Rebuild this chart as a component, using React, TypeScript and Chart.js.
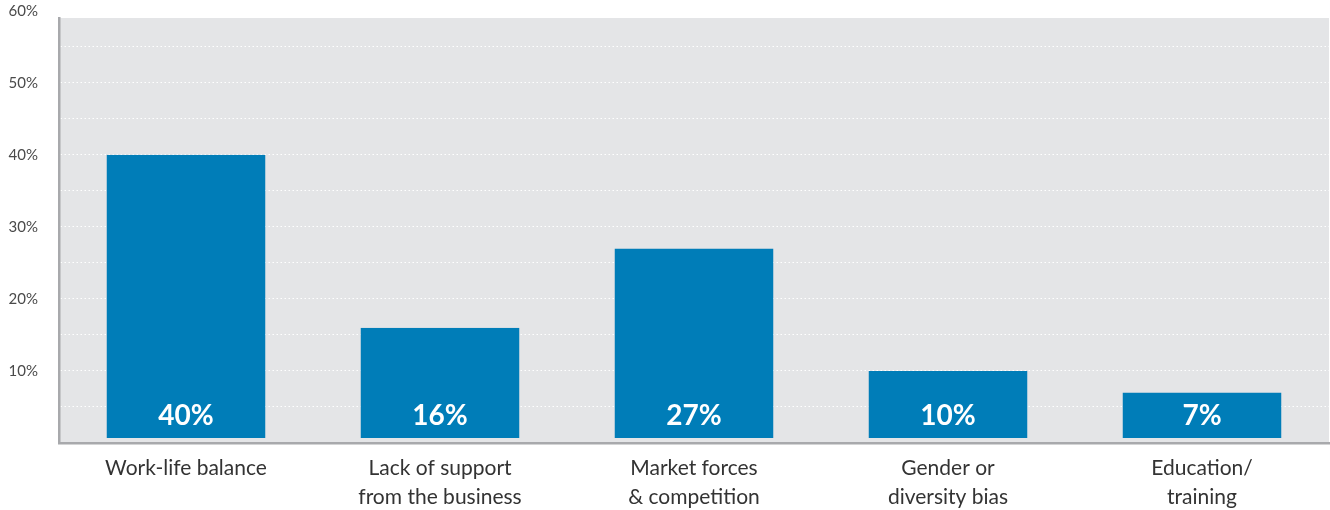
import React, { useEffect, useRef } from "react";
import { Chart, registerables } from "chart.js";

Chart.register(...registerables);

const categories: string[][] = [
  ["Work-life balance"],
  ["Lack of support", "from the business"],
  ["Market forces", "& competition"],
  ["Gender or", "diversity bias"],
  ["Education/", "training"],
];
const values: number[] = [40, 16, 27, 10, 7];
const gridValues: number[] = [5, 10, 15, 20, 25, 30, 35, 40, 45, 50, 55, 60];
const labeledTicks: number[] = [10, 20, 30, 40, 50, 60];

const FONT = "Lato, 'Open Sans', sans-serif";
const PLOT_BG = "#e4e5e7";
const BAR = "#007db8";
const AXIS = "#a8a9ac";

const bgPlugin = {
  id: "plotBg",
  beforeDraw(chart: any) {
    const { ctx, chartArea } = chart;
    ctx.save();
    ctx.fillStyle = PLOT_BG;
    ctx.fillRect(chartArea.left, chartArea.top, chartArea.right - chartArea.left, chartArea.bottom - chartArea.top);
    ctx.restore();
  },
};

const valueLabelPlugin = {
  id: "valueLabels",
  afterDatasetsDraw(chart: any) {
    const { ctx } = chart;
    const meta = chart.getDatasetMeta(0);
    ctx.save();
    ctx.fillStyle = "#ffffff";
    ctx.font = `bold 28px ${FONT}`;
    ctx.textAlign = "center";
    ctx.textBaseline = "middle";
    meta.data.forEach((bar: any, i: number) => {
      ctx.fillText(`${values[i]}%`, bar.x, bar.base - 27);
    });
    ctx.restore();
  },
};

export default function App() {
  const ref = useRef<HTMLCanvasElement | null>(null);
  useEffect(() => {
    if (!ref.current) return;
    const chart = new Chart(ref.current, {
      type: "bar",
      data: {
        labels: categories,
        datasets: [
          {
            data: values,
            backgroundColor: BAR,
            borderColor: PLOT_BG,
            borderWidth: { top: 0, left: 0, right: 0, bottom: 5 },
            borderSkipped: false,
            barPercentage: 0.626,
            categoryPercentage: 1,
          },
        ],
      },
      options: {
        animation: false,
        responsive: false,
        maintainAspectRatio: false,
        layout: { padding: { top: 18, right: 1, bottom: 0, left: 0 } },
        plugins: { legend: { display: false }, tooltip: { enabled: false } },
        scales: {
          x: {
            grid: { display: false, drawTicks: false },
            border: { display: true, color: AXIS, width: 2.5, z: 1 },
            ticks: {
              color: "#333333",
              font: { family: FONT, size: 21, lineHeight: 1.38 },
              padding: 11,
              maxRotation: 0,
              autoSkip: false,
            },
            afterFit(scale: any) {
              scale.height = 67;
            },
          },
          y: {
            min: 0,
            max: 59,
            afterBuildTicks(scale: any) {
              scale.ticks = gridValues.map((v) => ({ value: v }));
            },
            grid: {
              drawTicks: true,
              tickLength: 21,
              tickColor: "rgba(0,0,0,0)",
              color: (c: any) => (c.tick && c.tick.value >= 60 ? "rgba(0,0,0,0)" : "#ffffff"),
              lineWidth: 1,
            },
            border: { display: true, color: AXIS, width: 2.5, dash: [1.5, 2.5] as any },
            ticks: {
              color: "#4a4a4a",
              font: { family: FONT, size: 15 },
              padding: 0,
              callback: (v: any) => (labeledTicks.includes(Number(v)) ? `${v}%` : ""),
            },
            afterFit(scale: any) {
              scale.width = 59;
            },
          },
        },
      },
      plugins: [bgPlugin, valueLabelPlugin],
    });
    return () => chart.destroy();
  }, []);
  return (
    <div style={{ position: "fixed", left: 0, top: 0, width: 1330, height: 510, background: "#ffffff" }}>
      <canvas ref={ref} width={1330} height={510} style={{ width: 1330, height: 510 }} />
    </div>
  );
}
